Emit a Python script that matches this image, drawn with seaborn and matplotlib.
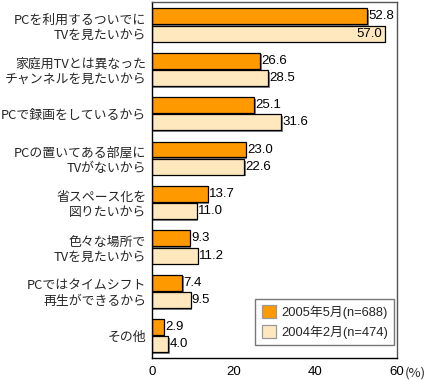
import numpy as np
import pandas as pd
import matplotlib
matplotlib.use("Agg")
import matplotlib.pyplot as plt
import matplotlib.patheffects as pe
import seaborn as sns

categories = [
    "PCを利用するついでに\nTVを見たいから",
    "家庭用TVとは異なった\nチャンネルを見たいから",
    "PCで録画をしているから",
    "PCの置いてある部屋に\nTVがないから",
    "省スペース化を\n図りたいから",
    "色々な場所で\nTVを見たいから",
    "PCではタイムシフト\n再生ができるから",
    "その他",
]
series_names = ["2005年5月(n=688)", "2004年2月(n=474)"]
values_2005 = [52.8, 26.6, 25.1, 23.0, 13.7, 9.3, 7.4, 2.9]
values_2004 = [57.0, 28.5, 31.6, 22.6, 11.0, 11.2, 9.5, 4.0]
colors = ["#FF9900", "#FFE8BE"]

df = pd.DataFrame({
    "cat": categories * 2,
    "series": [series_names[0]] * len(categories) + [series_names[1]] * len(categories),
    "value": values_2005 + values_2004,
})

sns.set_theme(style="white")
plt.rcParams["font.family"] = ["Noto Sans CJK JP", "DejaVu Sans"]
num_font = ["Liberation Sans", "DejaVu Sans"]

fig = plt.figure(figsize=(4.4, 3.8), dpi=100)
ax = fig.add_axes([0.345, 0.058, 0.557, 0.937])

sns.barplot(data=df, y="cat", x="value", hue="series", order=categories,
            hue_order=series_names, palette=colors, orient="h",
            width=0.78, gap=0.08, edgecolor="black", linewidth=0.9,
            saturation=1, ax=ax)

shadow = [pe.SimplePatchShadow(offset=(1.2, -1.2), shadow_rgbFace="#777777", alpha=0.9), pe.Normal()]
for p in ax.patches:
    p.set_path_effects(shadow)

# value labels
for ci, cont in enumerate(ax.containers):
    vals = values_2005 if ci == 0 else values_2004
    for bar, v in zip(cont, vals):
        y = bar.get_y() + bar.get_height() / 2
        if v > 55:
            ax.text(v - 0.6, y, f"{v:.1f}", ha="right", va="center", fontsize=9.5,
                    family=num_font, color="black")
        else:
            ax.text(v + 0.3, y, f"{v:.1f}", ha="left", va="center", fontsize=9.5,
                    family=num_font, color="black")

ax.set_xlim(0, 60)
ax.set_ylim(len(categories) - 0.5, -0.52)
ax.set_xticks([0, 20, 40, 60])
ax.set_xticklabels(["0", "20", "40", "60"], fontsize=9.5, family=num_font)
ax.annotate("(%)", xy=(60, 0), xycoords=ax.get_xaxis_transform(),
            xytext=(6, -6.5), textcoords="offset points", ha="left", va="top",
            fontsize=9.5)
ax.set_xlabel("")
ax.set_ylabel("")
ax.tick_params(axis="y", length=0, labelsize=9.3, pad=4)
ax.tick_params(axis="x", direction="in", length=6, width=0.8, colors="black", pad=6)
for lbl in ax.get_yticklabels():
    lbl.set_horizontalalignment("right")
    lbl.set_multialignment("right")

for s in ["left", "bottom"]:
    ax.spines[s].set_color("black")
    ax.spines[s].set_linewidth(1.0)
for s in ["top", "right"]:
    ax.spines[s].set_color("#555555")
    ax.spines[s].set_linewidth(1.0)

leg = ax.legend(loc="lower right", bbox_to_anchor=(0.99, 0.035),
                frameon=True, fancybox=False, prop={"family": ["Liberation Sans", "Noto Sans CJK JP"], "size": 9.3},
                handlelength=1.1, handleheight=1.1, borderpad=0.5, labelspacing=0.5,
                handletextpad=0.4, borderaxespad=0.0)
leg.get_frame().set_edgecolor("#555555")
leg.get_frame().set_linewidth(1.0)
for h in leg.legend_handles:
    h.set_edgecolor("#999999")
    h.set_path_effects([])

fig.savefig("out.png", dpi=100)
